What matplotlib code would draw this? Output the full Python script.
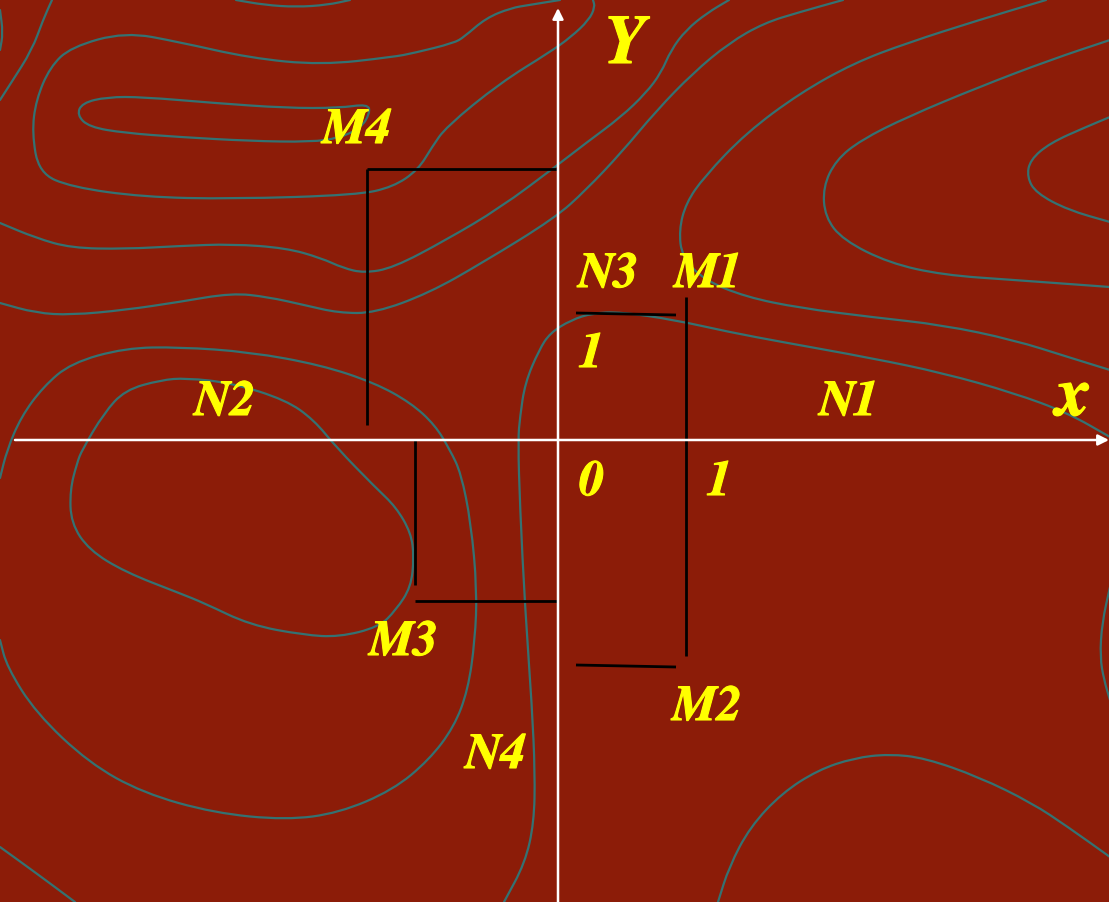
import numpy as np
import matplotlib
matplotlib.use("Agg")
import matplotlib.pyplot as plt
from matplotlib.path import Path
from matplotlib.patches import PathPatch
import matplotlib.patheffects as pe

# ---- colours ----
BG = "#8c1c08"
CONTOUR = "#347272"
LABEL = "#ffff00"
FONT = ["FreeSerif", "Liberation Serif", "DejaVu Serif"]

# ---- terrain contour lines (map pixel grid, y grows downward) ----
contour_a = [(236, 0), (265, 5), (296, 7), (327, 5), (350, 0)]
contour_b = [(0, 100), (11, 83), (32, 50), (43, 20), (52, 0)]
contour_b2 = [(0, 10), (3, 33), (0, 50)]
contour_c = [(560, 0), (529, 5), (511, 8), (486, 18), (464, 37), (454, 43), (414, 53),
             (393, 57), (321, 65), (250, 58), (179, 42), (125, 32), (71, 47), (50, 67),
             (36, 100), (32, 133), (39, 173), (71, 187), (143, 197), (232, 199),
             (357, 195), (393, 187), (418, 170), (432, 147), (446, 127), (500, 83),
             (550, 52), (571, 37), (589, 20), (595, 7), (593, 0)]
contour_d = [(368, 104), (339, 108), (286, 108), (214, 103), (143, 97), (107, 97),
             (82, 103), (77, 115), (89, 127), (125, 133), (179, 137), (250, 141),
             (311, 142), (339, 138), (361, 128), (370, 113)]
contour_e = [(0, 223), (36, 238), (71, 248), (125, 249), (179, 246), (232, 244),
             (286, 248), (321, 258), (343, 268), (364, 273), (393, 268), (446, 240),
             (500, 208), (555, 167), (586, 143), (621, 117), (646, 93), (661, 73),
             (671, 50), (686, 30), (707, 13), (729, 0)]
contour_f = [(0, 303), (36, 313), (71, 315), (125, 310), (179, 302), (232, 293),
             (268, 297), (304, 305), (339, 313), (375, 313), (429, 293), (482, 263),
             (555, 218), (586, 190), (621, 153), (657, 110), (693, 73), (729, 43),
             (764, 23), (800, 12), (843, 0)]
contour_g = [(0, 478), (7, 450), (21, 417), (43, 387), (71, 363), (125, 348),
             (179, 347), (250, 352), (321, 365), (375, 383), (411, 403), (435, 425),
             (450, 450), (461, 473), (471, 523), (477, 590), (475, 640), (468, 690),
             (454, 727), (429, 760), (393, 790), (339, 813), (286, 820), (214, 813),
             (143, 793), (89, 763), (36, 713), (7, 667), (0, 640)]
contour_h = [(82, 450), (104, 413), (125, 390), (161, 380), (186, 378), (232, 383),
             (286, 400), (314, 420), (336, 447), (375, 487), (396, 507), (411, 533),
             (414, 557), (411, 587), (396, 610), (379, 627), (339, 637), (304, 635),
             (250, 625), (204, 603), (179, 593), (125, 572), (89, 550), (71, 523),
             (70, 490), (77, 463)]
contour_i = [(504, 902), (525, 863), (534, 823), (535, 773), (532, 707), (525, 607),
             (520, 507), (518, 440), (520, 417), (525, 383), (539, 350), (550, 333),
             (571, 320), (593, 313), (621, 312), (675, 320), (729, 332), (782, 342),
             (871, 358), (943, 373), (1014, 393), (1068, 413), (1110, 437)]
contour_j = [(1110, 40), (1050, 60), (979, 87), (907, 117), (861, 140), (836, 160),
             (823, 187), (825, 217), (843, 240), (889, 263), (943, 275), (1014, 280),
             (1110, 287)]
contour_k = [(1110, 117), (1086, 127), (1050, 143), (1030, 160), (1027, 177),
             (1036, 193), (1068, 210), (1110, 222)]
contour_l = [(1046, 0), (979, 20), (907, 43), (854, 63), (800, 93), (746, 133),
             (704, 177), (686, 203), (679, 230), (682, 257), (704, 280), (746, 297),
             (800, 308), (871, 317), (943, 325), (1014, 340), (1068, 357), (1110, 370)]
contour_n = [(0, 847), (36, 873), (75, 902)]
contour_o = [(718, 902), (729, 867), (750, 827), (782, 793), (818, 770), (854, 758),
             (889, 754), (925, 758), (979, 777), (1032, 803), (1068, 827), (1110, 857)]
contour_p = [(1110, 587), (1102, 623), (1100, 657), (1104, 680), (1110, 700)]

open_contours = [contour_a, contour_b, contour_b2, contour_c, contour_e, contour_f,
                 contour_g, contour_i, contour_j, contour_k, contour_l, contour_n,
                 contour_o, contour_p]
closed_contours = [contour_d, contour_h]

# ---- coordinate axes ----
x_axis = [(15, 440), (1109, 440)]
y_axis = [(558, 902), (558, 8)]

# ---- construction segments for the points ----
segments = [
    [(367, 169), (558, 169)], [(367, 169), (367, 425)],     # M4
    [(576, 313), (676, 315)],                               # N3
    [(686, 297), (686, 656)],                               # M1 / M2
    [(576, 665), (676, 667)],                               # M2
    [(415, 440), (415, 585)], [(415, 601), (558, 601)],     # M3
]

# ---- labels: text, left x, baseline y, size ----
labels = [
    ("Y", 600, 63, 50), ("x", 1055, 415, 50),
    ("M4", 321, 143, 36), ("N2", 193, 415, 36), ("N3", 577, 287, 36),
    ("M1", 673, 287, 36), ("1", 579, 367, 36), ("N1", 818, 415, 36),
    ("0", 579, 495, 36), ("1", 707, 495, 36), ("M2", 671, 720, 36),
    ("M3", 368, 655, 36), ("N4", 464, 768, 36),
]


def smooth_path(pts, closed=False):
    pts = np.asarray(pts, float)
    if closed:
        pts = np.vstack([pts, pts[:2]])
        verts = [(pts[0] + pts[1]) / 2]
        codes = [Path.MOVETO]
    else:
        verts = [pts[0], (pts[0] + pts[1]) / 2]
        codes = [Path.MOVETO, Path.LINETO]
    for i in range(1, len(pts) - 1):
        verts += [pts[i], (pts[i] + pts[i + 1]) / 2]
        codes += [Path.CURVE3, Path.CURVE3]
    if not closed:
        verts.append(pts[-1])
        codes.append(Path.LINETO)
    return Path(verts, codes)


fig = plt.figure(figsize=(11.09, 9.02), dpi=100, facecolor=BG)
ax = fig.add_axes([0, 0, 1, 1])
ax.set_facecolor(BG)
ax.set_xlim(0, 1109)
ax.set_ylim(902, 0)
ax.axis("off")

for c in open_contours:
    ax.add_patch(PathPatch(smooth_path(c), fill=False, edgecolor=CONTOUR, lw=1.6,
                           capstyle="round", joinstyle="round"))
for c in closed_contours:
    ax.add_patch(PathPatch(smooth_path(c, closed=True), fill=False, edgecolor=CONTOUR,
                           lw=1.6, joinstyle="round"))

# axes with arrows
for (p0, p1) in (x_axis, y_axis):
    ax.annotate("", xy=p1, xytext=p0,
                arrowprops=dict(arrowstyle="-|>", color="white", lw=1.8,
                                mutation_scale=16, shrinkA=0, shrinkB=0))

for seg in segments:
    (x0, y0), (x1, y1) = seg
    ax.plot([x0, x1], [y0, y1], color="black", lw=2, solid_capstyle="butt")

heavy = [pe.withStroke(linewidth=0.8, foreground=LABEL)]
for text, x, y, size in labels:
    ax.text(x, y, text, color=LABEL, fontsize=size, family=FONT,
            fontweight="bold", fontstyle="italic", ha="left", va="baseline",
            path_effects=heavy)

fig.savefig("out.png", dpi=100, facecolor=BG)
